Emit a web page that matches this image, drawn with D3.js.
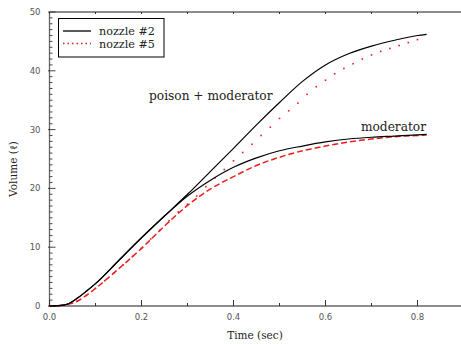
<!DOCTYPE html>
<html>
<head>
  <meta charset="utf-8">
  <script src="https://d3js.org/d3.v7.min.js"></script>
  <style>
    body { margin: 0; background: #fff; }
    .tick-label { font-family: "DejaVu Sans", sans-serif; font-size: 8.5px; fill: #555; }
    .serif { font-family: "DejaVu Serif", serif; fill: #222; }
  </style>
</head>
<body>
  <script>
    // Time samples (sec) for the solid and dashed curves
    const times = [0, 0.02, 0.04, 0.06, 0.08, 0.1, 0.15, 0.2, 0.25, 0.3, 0.35,
                   0.4, 0.45, 0.5, 0.55, 0.6, 0.65, 0.7, 0.75, 0.8, 0.82];
    // nozzle #2, poison + moderator (solid)
    const n2Poison = [0, 0.05, 0.35, 1.3, 2.5, 3.8, 7.7, 11.6, 15.3, 19.0, 22.9,
                      26.8, 30.8, 34.6, 38.2, 41.0, 42.9, 44.2, 45.2, 46.0, 46.2];
    // nozzle #2, moderator (solid)
    const n2Mod = [0, 0.05, 0.35, 1.3, 2.5, 3.8, 7.7, 11.6, 15.3, 18.7, 21.4,
                   23.6, 25.2, 26.4, 27.2, 27.9, 28.4, 28.7, 28.9, 29.1, 29.2];
    // nozzle #5, moderator (dashed)
    const n5Mod = [0, 0.05, 0.3, 0.8, 1.8, 3.0, 6.3, 9.8, 13.6, 17.1, 19.9,
                   22.0, 23.9, 25.3, 26.4, 27.2, 27.9, 28.4, 28.8, 29.0, 29.1];
    // nozzle #5, poison + moderator (dotted, sampled every 0.02 s)
    const dotTimes = d3.range(0, 41).map(i => i * 0.02);
    const n5Poison = [0, 0.05, 0.3, 0.8, 1.8, 3.0, 4.3, 5.6, 7.0, 8.4, 9.8,
                      11.4, 12.9, 14.5, 16.0, 17.3, 18.7, 20.3, 21.8, 23.2, 24.7,
                      26.1, 27.5, 29.0, 30.4, 31.9, 33.2, 34.5, 36.0, 37.3, 38.4,
                      39.5, 40.4, 41.2, 42.0, 42.7, 43.3, 43.8, 44.3, 44.8, 45.3];

    const xTicks = [0, 0.2, 0.4, 0.6, 0.8];
    const yTicks = [0, 10, 20, 30, 40, 50];

    const width = 461, height = 344;
    const plotLeft = 49.5, plotTop = 12, plotBottom = 306, plotRight = 461;

    const x = d3.scaleLinear().domain([0, 0.8]).range([plotLeft, plotLeft + 368]);
    const y = d3.scaleLinear().domain([0, 50]).range([plotBottom, plotTop]);

    const svg = d3.select("body").append("svg")
      .attr("width", width)
      .attr("height", height);

    const axisColor = "#666";

    // frame lines (left, bottom, top)
    svg.append("line").attr("x1", plotLeft).attr("x2", plotLeft).attr("y1", plotTop).attr("y2", plotBottom)
      .attr("stroke", axisColor).attr("stroke-width", 1.3);
    svg.append("line").attr("x1", plotLeft).attr("x2", plotRight).attr("y1", plotBottom).attr("y2", plotBottom)
      .attr("stroke", axisColor).attr("stroke-width", 1.6);
    svg.append("line").attr("x1", plotLeft).attr("x2", plotRight).attr("y1", plotTop).attr("y2", plotTop)
      .attr("stroke", axisColor).attr("stroke-width", 1.3);

    // x ticks: minor every 0.1, major every 0.2
    const xMinor = d3.range(0, 9).map(i => i * 0.1);
    svg.append("g").selectAll("line").data(xMinor).join("line")
      .attr("x1", d => x(d)).attr("x2", d => x(d))
      .attr("y1", plotBottom)
      .attr("y2", (d, i) => plotBottom - (i % 2 === 0 ? 6 : 3))
      .attr("stroke", "#333").attr("stroke-width", 1);
    svg.append("g").selectAll("line").data(xMinor).join("line")
      .attr("x1", d => x(d)).attr("x2", d => x(d))
      .attr("y1", plotTop).attr("y2", plotTop + 2)
      .attr("stroke", "#333").attr("stroke-width", 1);
    svg.append("g").selectAll("text").data(xTicks).join("text")
      .attr("class", "tick-label")
      .attr("x", d => x(d)).attr("y", plotBottom + 14)
      .attr("text-anchor", "middle")
      .text(d3.format(".1f"));

    // y ticks: minor every 1, major every 10
    const yMinor = d3.range(0, 51);
    svg.append("g").selectAll("line").data(yMinor).join("line")
      .attr("x1", d => d % 10 === 0 ? plotLeft - 1.5 : plotLeft)
      .attr("x2", d => plotLeft + (d % 10 === 0 ? 6 : 3))
      .attr("y1", d => y(d)).attr("y2", d => y(d))
      .attr("stroke", "#333").attr("stroke-width", 0.9);
    svg.append("g").selectAll("text").data(yTicks).join("text")
      .attr("class", "tick-label")
      .attr("x", plotLeft - 9).attr("y", d => y(d))
      .attr("dy", "0.35em")
      .attr("text-anchor", "end")
      .text(d => d);

    // axis titles
    svg.append("text").attr("class", "serif")
      .attr("x", 255).attr("y", 339)
      .attr("text-anchor", "middle")
      .style("font-size", "10.5px")
      .text("Time (sec)");
    svg.append("text").attr("class", "serif")
      .attr("transform", "translate(17,169) rotate(-90)")
      .attr("text-anchor", "middle")
      .style("font-size", "10.5px")
      .text("Volume (ℓ)");

    const line = d3.line()
      .x(d => x(d[0]))
      .y(d => y(d[1]))
      .curve(d3.curveMonotoneX);

    const zip = (ts, vs) => ts.map((t, i) => [t, vs[i]]);

    // nozzle #5 moderator (dashed red)
    svg.append("path")
      .attr("d", line(zip(times, n5Mod).slice(1)))
      .attr("fill", "none").attr("stroke", "#ee1c1c")
      .attr("stroke-width", 1.5).attr("stroke-dasharray", "6,3");

    // nozzle #5 poison + moderator (red dots at samples)
    svg.append("g").selectAll("rect").data(zip(dotTimes, n5Poison)).join("rect")
      .attr("x", d => x(d[0]) - 0.8).attr("y", d => y(d[1]) - 0.8)
      .attr("width", 1.6).attr("height", 1.6)
      .attr("fill", "#ee1c1c");

    // nozzle #2 curves (solid black)
    [n2Poison, n2Mod].forEach(vals => {
      svg.append("path")
        .attr("d", line(zip(times, vals)))
        .attr("fill", "none").attr("stroke", "#000")
        .attr("stroke-width", 1.2);
    });

    // annotations
    svg.append("text").attr("class", "serif")
      .attr("x", 149).attr("y", 100)
      .style("font-size", "12.2px")
      .text("poison + moderator");
    svg.append("text").attr("class", "serif")
      .attr("x", 426).attr("y", 131)
      .attr("text-anchor", "end")
      .style("font-size", "12.2px")
      .text("moderator");

    // legend
    const lg = svg.append("g");
    lg.append("rect")
      .attr("x", 58.5).attr("y", 18.5).attr("width", 105.5).attr("height", 38.5)
      .attr("fill", "#fff").attr("stroke", "#000").attr("stroke-width", 1);
    lg.append("line").attr("x1", 63).attr("x2", 91).attr("y1", 31).attr("y2", 31)
      .attr("stroke", "#000").attr("stroke-width", 1.3);
    lg.append("line").attr("x1", 63).attr("x2", 91).attr("y1", 43.5).attr("y2", 43.5)
      .attr("stroke", "#ee1c1c").attr("stroke-width", 1.5).attr("stroke-dasharray", "1.5,3");
    lg.append("text").attr("class", "serif").attr("x", 99).attr("y", 35)
      .style("font-size", "11.2px").text("nozzle #2");
    lg.append("text").attr("class", "serif").attr("x", 99).attr("y", 47.5)
      .style("font-size", "11.2px").text("nozzle #5");
  </script>
</body>
</html>
